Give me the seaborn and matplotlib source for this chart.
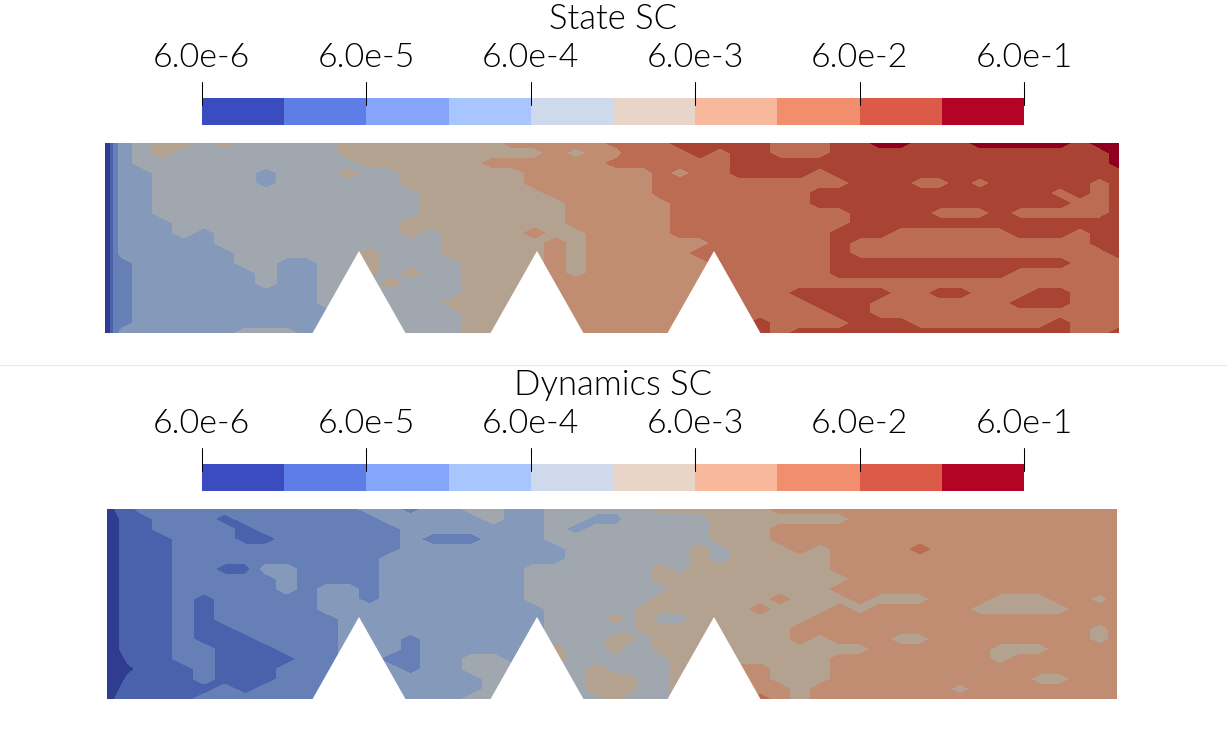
import numpy as np
import seaborn as sns
import matplotlib.pyplot as plt
from matplotlib.colors import ListedColormap

sns.set_theme(style="white")
plt.rcParams['font.family'] = ['Lato', 'DejaVu Sans']
plt.rcParams['font.weight'] = 300

# colour bands, one per decade half step
bar_colors = ['#3b4cc0', '#5e7de6', '#84a5f9', '#a9c5fd', '#cfd9ec',
              '#e9d4c8', '#f7b89c', '#f18e6e', '#dc5a48', '#b40426']
# same bands as they look on the shaded surface
field_colors = ['#303c8f', '#4a62ab', '#677fb7', '#8599bb', '#a0a7af',
                '#b4a291', '#c08d72', '#bb6c52', '#a94435', '#8f0020']

tick_values = [6e-6, 6e-5, 6e-4, 6e-3, 6e-2, 6e-1]
tick_labels = ['6.0e-6', '6.0e-5', '6.0e-4', '6.0e-3', '6.0e-2', '6.0e-1']

# band index on a coarse grid, one string per row
state_rows = [
    "00123 45545 44444 55555 55566 66677 77888 88777 88998 88999 99899",
    "00123 45444 44444 55555 55555 65667 77787 88777 88888 88888 88889",
    "00123 44444 44444 45555 55666 66677 77777 88888 88888 88888 88889",
    "00123 34444 43444 54455 55556 66666 67677 88887 88888 88888 88888",
    "00123 34444 43444 44455 55556 66666 67777 77777 78887 78788 88878",
    "00123 34444 44444 44445 55555 66666 67777 77778 88888 88888 87878",
    "00123 34444 44444 44445 55555 56666 66777 77778 88888 88888 88778",
    "00123 34444 44444 44445 55555 56666 66777 77777 78888 77787 77778",
    "00123 33444 44444 44455 55555 56666 66777 77777 78888 88888 88888",
    "00123 33434 44444 44454 55556 55666 66777 77777 88877 77778 88788",
    "00123 33334 44444 44444 55555 65666 66667 77777 87777 77777 77788",
    "00123 33333 44444 45444 55555 65666 66677 77777 87777 77777 77778",
    "00122 33333 44334 45444 45555 65666 66667 77777 88888 88888 88777",
    "00122 33333 34334 45454 45555 65666 66667 77777 88888 88887 77777",
    "00122 33333 34334 44544 45555 66666 66667 77777 77777 77777 77777",
    "00122 33333 33334 44444 45555 66666 66667 77788 88877 88777 88777",
    "00122 33333 33334 44444 55555 66666 66667 77778 88777 77778 88777",
    "00122 33333 33333 44444 45555 66666 66667 77777 88777 77777 77777",
    "00122 33333 33333 44444 45555 66666 66667 78777 78887 77777 78777",
    "00123 33333 44433 44444 45555 66666 66667 78788 88888 88888 88778",
]
dynamics_rows = [
    "00111 22222 22222 23323 34433 44444 45555 55666 66666 66666 66666",
    "00011 12221 22222 22333 33433 44334 44445 55555 56666 66666 66666",
    "00011 12222 12222 22233 33333 43444 44445 55666 66666 66666 66666",
    "00011 11222 11222 22232 22333 44444 44445 55666 66666 66666 66666",
    "00011 11222 22222 22233 33333 34444 44454 55565 66667 66666 66666",
    "00011 11222 22222 22333 33333 34444 44454 55555 66666 66666 66666",
    "00011 11221 13322 22333 33334 44444 45455 55555 66666 66666 66666",
    "00011 11222 22322 22333 33334 44444 45555 55555 56666 66666 66666",
    "00011 11222 22323 32333 33334 44444 44555 55555 66666 66666 66666",
    "00011 11212 22223 32333 33334 44444 45555 55655 56555 66655 56656",
    "00011 11212 22223 33333 33333 44444 55555 56555 65666 66555 55666",
    "00011 11212 22222 33333 33333 44454 54455 55556 66666 66666 66666",
    "00011 11211 22222 33333 33333 44444 55555 55566 66666 66666 66656",
    "00011 11211 12222 33323 33333 44455 45555 55565 66655 66666 66656",
    "00011 11221 11222 33323 33333 54454 45555 55555 55666 66655 56666",
    "00001 11221 11122 33223 34433 54444 44555 55555 66666 66656 66666",
    "00000 11121 11222 33323 34444 44544 44555 66555 66666 66666 66666",
    "00001 11121 11222 33333 33444 44555 44555 66555 66666 66666 55666",
    "00011 11112 12222 33333 33444 44555 44555 66656 66666 65666 66666",
    "00111 11122 22222 33333 34444 44454 44555 67656 66666 66666 66666",
]

W, H = 1227, 730
# columns left of 620 were read with a slightly tighter spacing
grid_x = [142 + 20.66 * i for i in range(24)] + [628, 645] + list(range(660, 1101, 20))
levels = np.arange(-0.5, 10, 1)
notch_tips = [359, 537, 714]


def to_array(rows):
    return np.array([[int(c) for c in r.replace(' ', '')] for r in rows])


fig = plt.figure(figsize=(W / 100, H / 100), dpi=100)
ax = fig.add_axes([0, 0, 1, 1], zorder=5)
ax.set_xlim(0, W)
ax.set_ylim(H, 0)
ax.axis('off')
ax.plot([0, W], [365, 365], color='#ebebeb', lw=1)


def panel(title, rows, top, right, left_x, bar_top):
    ax.text(613, top - 124, title, ha='center', va='center', fontsize=25, color='black')

    # colour bar
    bar_left, bar_right = 202, 1024
    bar_ax = fig.add_axes([bar_left / W, 1 - (bar_top + 27) / H, (bar_right - bar_left) / W, 27 / H])
    sns.heatmap(np.arange(10).reshape(1, 10), ax=bar_ax, cmap=ListedColormap(bar_colors),
                cbar=False, xticklabels=False, yticklabels=False)
    span = np.log10(tick_values[-1]) - np.log10(tick_values[0])
    for v, lab in zip(tick_values, tick_labels):
        tx = 201.5 + (np.log10(v) - np.log10(tick_values[0])) / span * 822.5
        ax.plot([tx, tx], [bar_top - 16, bar_top + 7], color='black', lw=0.75)
        ax.text(tx, bar_top - 40, lab, ha='center', va='center', fontsize=24.5, color='black')

    # surface
    x = left_x + grid_x + [right]
    y = np.linspace(top, top + 190, len(rows))
    ax.contourf(x, y, to_array(rows), levels=levels, colors=field_colors)
    for tip in notch_tips:
        ax.fill([tip - 47, tip, tip + 47], [top + 191, top + 108, top + 191], color='white', lw=0, zorder=3)


panel('State SC', state_rows, 143, 1119, [105, 108, 111, 115, 122], 98)
panel('Dynamics SC', dynamics_rows, 509, 1117, [107, 112, 117, 122, 128], 464)

fig.savefig('out.png', dpi=100)
